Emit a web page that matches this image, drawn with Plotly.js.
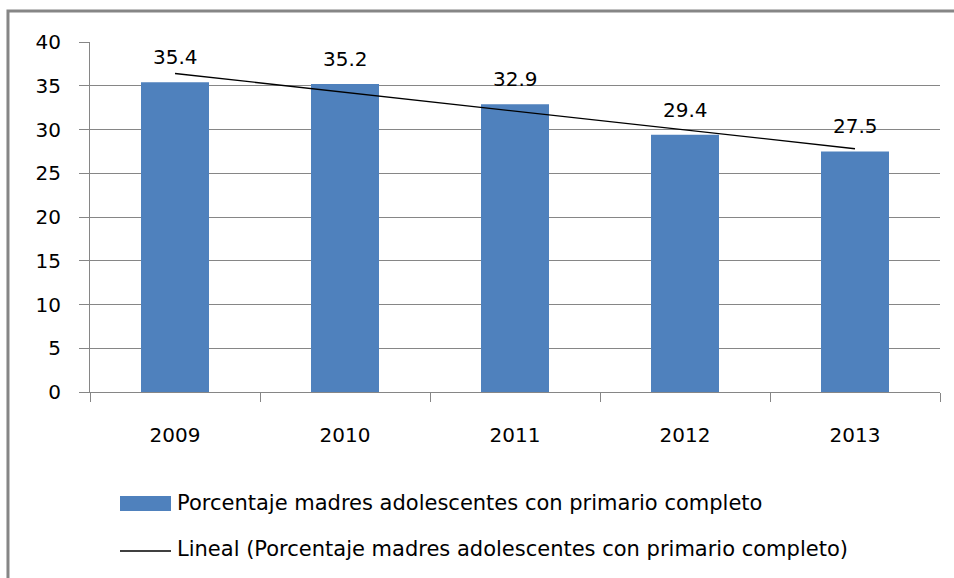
<!DOCTYPE html>
<html>
<head>
<meta charset="utf-8">
<script src="https://cdn.plot.ly/plotly-3.0.1.min.js"></script>
<style>
  html, body { margin: 0; padding: 0; background: #fff; }
  #chart { width: 954px; height: 578px; }
</style>
</head>
<body>
<div id="chart"></div>
<script>
const years = ["2009", "2010", "2011", "2012", "2013"];
const percentages = [35.4, 35.2, 32.9, 29.4, 27.5];
const trendYears = ["2009", "2013"];
const trendValues = [36.4, 27.8];
const yTicks = [0, 5, 10, 15, 20, 25, 30, 35, 40];

const barName = "Porcentaje madres adolescentes con primario completo";
const trendName = "Lineal (Porcentaje madres adolescentes con primario completo)";
const font = "'DejaVu Sans', Verdana, sans-serif";
const barColor = "#4F81BD";
const gray = "#868686";

const data = [
    {
        x: years,
        y: percentages,
        name: barName,
        type: "bar",
        marker: { color: barColor },
        hoverinfo: "x+y"
    },
    {
        x: trendYears,
        y: trendValues,
        name: trendName,
        type: "scatter",
        mode: "lines",
        line: { color: "#000000", width: 1.3 },
        hoverinfo: "skip"
    }
];

// value labels above the bars
const annotations = years.map(function(yr, i) {
    return {
        x: i, y: percentages[i], xref: "x", yref: "y",
        text: percentages[i].toFixed(1),
        showarrow: false, yanchor: "bottom", yshift: 11,
        font: { family: font, size: 20, color: "#000" }
    };
});

// legend drawn by hand so the swatch is Excel sized
annotations.push(
    { xref: "paper", yref: "paper", x: 0.1, y: -0.3171, xanchor: "left", yanchor: "middle",
      text: barName, showarrow: false, font: { family: font, size: 21, color: "#000" } },
    { xref: "paper", yref: "paper", x: 0.1, y: -0.4486, xanchor: "left", yanchor: "middle",
      text: trendName, showarrow: false, font: { family: font, size: 21, color: "#000" } }
);

const layout = {
    width: 954,
    height: 578,
    margin: { l: 90, r: 14, t: 42, b: 186 },
    paper_bgcolor: "#ffffff",
    plot_bgcolor: "#ffffff",
    font: { family: font, size: 20, color: "#000" },
    bargap: 0.6,
    showlegend: false,
    xaxis: {
        type: "category",
        range: [-0.5, 4.5],
        showline: true, linecolor: gray, linewidth: 1,
        ticks: "outside", ticklen: 9, tickcolor: gray,
        tickson: "boundaries",
        ticklabelstandoff: 25,
        showgrid: false,
        fixedrange: true
    },
    yaxis: {
        range: [0, 40],
        tickvals: yTicks,
        showline: true, linecolor: gray, linewidth: 1,
        ticks: "outside", ticklen: 10, tickcolor: gray,
        ticklabelstandoff: 14,
        showgrid: true, gridcolor: gray, gridwidth: 1,
        zeroline: false,
        fixedrange: true
    },
    annotations: annotations,
    shapes: [
        {
            type: "rect", xref: "paper", yref: "paper",
            x0: -0.0965, x1: 1.25, y0: -0.7, y1: 1.0886,
            line: { color: gray, width: 3 },
            fillcolor: "rgba(0,0,0,0)",
            layer: "below"
        },
        {
            type: "rect", xref: "paper", yref: "paper",
            x0: 0.0353, x1: 0.0953, y0: -0.34, y1: -0.2971,
            line: { width: 0 }, fillcolor: barColor
        },
        {
            type: "line", xref: "paper", yref: "paper",
            x0: 0.0353, x1: 0.0953, y0: -0.4543, y1: -0.4543,
            line: { color: "#000", width: 1.3 }
        }
    ]
};

Plotly.newPlot("chart", data, layout, { displayModeBar: false, responsive: false });
</script>
</body>
</html>
